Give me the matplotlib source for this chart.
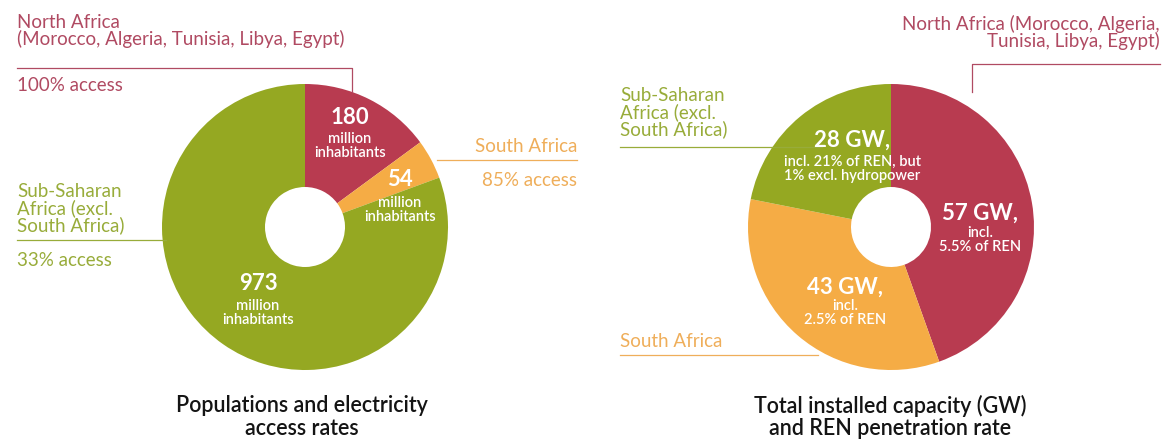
import matplotlib
matplotlib.use("Agg")
import matplotlib.pyplot as plt

# ---- data ----
regions = ["North Africa", "South Africa", "Sub-Saharan Africa"]
population_m = [180, 54, 973]
capacity_gw = [57, 43, 28]
capacity_order = ["North Africa", "South Africa", "Sub-Saharan Africa"]
access_rates = ["100% access", "85% access", "33% access"]
colors = {"North Africa": "#B83B50", "South Africa": "#F5AC45", "Sub-Saharan Africa": "#95A822"}
label_colors = {"North Africa": "#B04A62", "South Africa": "#EFAE5A", "Sub-Saharan Africa": "#98AC3A"}
titles = ["Populations and electricity\naccess rates",
          "Total installed capacity (GW)\nand REN penetration rate"]

W, H = 1162, 442
fig = plt.figure(figsize=(W / 100, H / 100), dpi=100)
ax = fig.add_axes([0, 0, 1, 1])

def Y(y):
    return H - y

FONT = "Lato"
R = 143
HOLE = 40

# ---- left donut ----
c1 = (305, Y(227))
ax.pie(population_m, colors=[colors[r] for r in regions], startangle=90,
       counterclock=False, center=c1, radius=R,
       wedgeprops=dict(width=R - HOLE, linewidth=0))

# ---- right donut ----
c2 = (891, Y(227))
ax.pie(capacity_gw, colors=[colors[r] for r in capacity_order], startangle=90,
       counterclock=False, center=c2, radius=R,
       wedgeprops=dict(width=R - HOLE, linewidth=0))

ax.set_xlim(0, W)
ax.set_ylim(0, H)
ax.set_aspect("auto")
ax.axis("off")

lw = 0.9
lab = dict(family=FONT, fontweight="normal", fontsize=13.5)

# ---- left chart labels ----
na = label_colors["North Africa"]
ax.text(17, Y(45), "North Africa\n(Morocco, Algeria, Tunisia, Libya, Egypt)", color=na,
        ha="left", va="baseline", linespacing=0.95, **lab)
ax.plot([17, 352, 352], [Y(68), Y(68), Y(92)], color=na, lw=lw)
ax.text(17, Y(91), access_rates[0], color=na, ha="left", va="baseline", **lab)

sa = label_colors["South Africa"]
ax.text(577, Y(152), "South Africa", color=sa, ha="right", va="baseline", **lab)
ax.plot([437, 577], [Y(160), Y(160)], color=sa, lw=lw)
ax.text(577, Y(186), access_rates[1], color=sa, ha="right", va="baseline", **lab)

ss = label_colors["Sub-Saharan Africa"]
ax.text(17, Y(231), "Sub-Saharan\nAfrica (excl.\nSouth Africa)", color=ss, ha="left",
        va="baseline", linespacing=0.95, **lab)
ax.plot([17, 166], [Y(240), Y(240)], color=ss, lw=lw)
ax.text(17, Y(266), access_rates[2], color=ss, ha="left", va="baseline", **lab)

# ---- right chart labels ----
ax.text(1160, Y(47), "North Africa (Morocco, Algeria,\nTunisia, Libya, Egypt)", color=na,
        ha="right", va="baseline", linespacing=0.95, multialignment="right", **lab)
ax.plot([1160, 972, 972], [Y(64), Y(64), Y(92)], color=na, lw=lw)

ax.text(620, Y(135), "Sub-Saharan\nAfrica (excl.\nSouth Africa)", color=ss, ha="left",
        va="baseline", linespacing=0.95, **lab)
ax.plot([620, 822], [Y(147), Y(147)], color=ss, lw=lw)

ax.text(620, Y(347), "South Africa", color=sa, ha="left", va="baseline", **lab)
ax.plot([620, 818], [Y(355), Y(355)], color=sa, lw=lw)

# ---- wedge texts ----
big = dict(family=FONT, fontweight="bold", fontsize=16, color="white", ha="center", va="center")
small = dict(family=FONT, fontweight="semibold", fontsize=10.5, color="white",
             ha="center", va="center", linespacing=1.0)

ax.text(350, Y(117), f"{population_m[0]}", **big)
ax.text(350, Y(146), "million\ninhabitants", **small)
ax.text(400, Y(180), f"{population_m[1]}", **big)
ax.text(400, Y(210), "million\ninhabitants", **small)
ax.text(258, Y(283), f"{population_m[2]}", **big)
ax.text(258, Y(313), "million\ninhabitants", **small)

ax.text(852, Y(140), f"{capacity_gw[2]} GW,", **big)
ax.text(852, Y(169), "incl. 21% of REN, but\n1% excl. hydropower", **small)
ax.text(980, Y(213), f"{capacity_gw[0]} GW,", **big)
ax.text(980, Y(240), "incl.\n5.5% of REN", **small)
ax.text(845, Y(287), f"{capacity_gw[1]} GW,", **big)
ax.text(845, Y(313), "incl.\n2.5% of REN", **small)

# ---- titles ----
tt = dict(family=FONT, fontweight="semibold", fontsize=15.5, color="#141414",
          ha="center", va="center", linespacing=1.1)
ax.text(302, Y(417), titles[0], **tt)
ax.text(890, Y(417), titles[1], **tt)

fig.savefig("out.png", dpi=100)
